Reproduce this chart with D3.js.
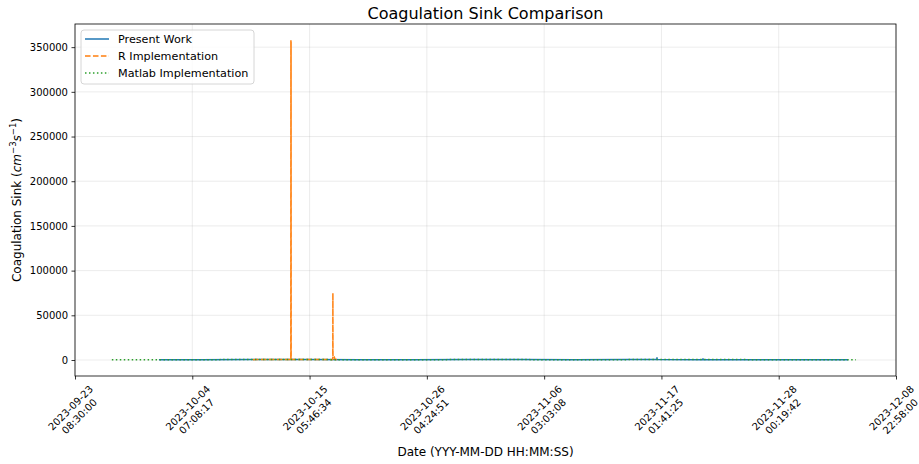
<!DOCTYPE html>
<html>
<head>
<meta charset="utf-8">
<script src="https://cdn.jsdelivr.net/npm/d3@7"></script>
<style>
  html, body { margin: 0; padding: 0; background: #fff; }
  svg { display: block; font-family: "DejaVu Sans", sans-serif; }
</style>
</head>
<body>
<svg id="chart" width="919" height="464"></svg>
<script>
// ---------------- DATA ----------------
const xTickLabels = [
  "2023-09-23 08:30:00", "2023-10-04 07:08:17", "2023-10-15 05:46:34", "2023-10-26 04:24:51",
  "2023-11-06 03:03:08", "2023-11-17 01:41:25", "2023-11-28 00:19:42", "2023-12-08 22:58:00"
];
const yTickValues = [0, 50000, 100000, 150000, 200000, 250000, 300000, 350000];

const seriesNames = ["Present Work", "R Implementation", "Matlab Implementation"];

const presentTimes = [
  "2023-10-01 04:30", "2023-10-05 00:00", "2023-10-10 00:00", "2023-10-15 00:00", "2023-10-20 00:00",
  "2023-10-25 00:00", "2023-10-30 00:00", "2023-11-04 00:00", "2023-11-09 00:00", "2023-11-14 00:00",
  "2023-11-16 15:30", "2023-11-16 15:45", "2023-11-16 16:00", "2023-11-20 22:30", "2023-11-20 22:45",
  "2023-11-20 23:00", "2023-11-25 00:00", "2023-11-30 00:00", "2023-12-04 11:30"
];
const presentValues = [350, 410, 480, 440, 390, 420, 460, 430, 400, 450, 480, 2600, 470, 420, 1300, 410, 380, 360, 340];

const rTimes = [
  "2023-10-09 23:00", "2023-10-11 12:00", "2023-10-13 11:50", "2023-10-13 12:00", "2023-10-13 12:10",
  "2023-10-13 12:20", "2023-10-13 12:30", "2023-10-15 12:00", "2023-10-17 09:50", "2023-10-17 10:00",
  "2023-10-17 10:10", "2023-10-17 13:00", "2023-10-17 15:00", "2023-10-17 19:00"
];
const rValues = [420, 510, 480, 358000, 500, 356000, 470, 530, 490, 75000, 2800, 3500, 600, 450];

const matlabTimes = [
  "2023-09-26 19:00", "2023-10-01 00:00", "2023-10-05 12:00", "2023-10-10 00:00", "2023-10-14 12:00",
  "2023-10-19 00:00", "2023-10-23 12:00", "2023-10-28 00:00", "2023-11-01 12:00", "2023-11-06 00:00",
  "2023-11-10 12:00", "2023-11-15 00:00", "2023-11-19 12:00", "2023-11-24 00:00", "2023-11-28 12:00",
  "2023-12-03 00:00", "2023-12-05 05:00"
];
const matlabValues = [310, 420, 380, 510, 460, 390, 350, 420, 470, 400, 360, 440, 500, 430, 380, 350, 320];

// ---------------- CHART ----------------
const W = 919, H = 464;
const margin = { left: 75, right: 23, top: 24, bottom: 88 };
const pw = W - margin.left - margin.right;
const ph = H - margin.top - margin.bottom;

const parseData = d3.utcParse("%Y-%m-%d %H:%M");
const parseTick = d3.utcParse("%Y-%m-%d %H:%M:%S");

const colors = ["#1f77b4", "#ff7f0e", "#2ca02c"];
const dashes = [null, "5.55,2.4", "1.5,2.475"];

const series = [
  { name: seriesNames[0], pts: presentTimes.map((t, i) => ({ t: parseData(t), v: presentValues[i] })) },
  { name: seriesNames[1], pts: rTimes.map((t, i) => ({ t: parseData(t), v: rValues[i] })) },
  { name: seriesNames[2], pts: matlabTimes.map((t, i) => ({ t: parseData(t), v: matlabValues[i] })) }
];

const tickDates = xTickLabels.map(parseTick);

const allV = series.flatMap(s => s.pts.map(p => p.v));
const vMin = Math.min(0, d3.min(allV)), vMax = d3.max(allV);
const padY = (vMax - vMin) * 0.05;

const x = d3.scaleUtc().domain([tickDates[0], tickDates[tickDates.length - 1]]).range([0, pw]);
const y = d3.scaleLinear().domain([vMin - padY, vMax + padY]).range([ph, 0]);

const svg = d3.select("#chart");
svg.append("rect").attr("width", W).attr("height", H).attr("fill", "#fff");

const g = svg.append("g").attr("transform", `translate(${margin.left},${margin.top})`);

// grid
g.append("g").selectAll("line").data(tickDates).join("line")
  .attr("x1", d => x(d)).attr("x2", d => x(d)).attr("y1", 0).attr("y2", ph)
  .attr("stroke", "#b0b0b0").attr("stroke-opacity", 0.3).attr("stroke-width", 0.8);
g.append("g").selectAll("line").data(yTickValues).join("line")
  .attr("x1", 0).attr("x2", pw).attr("y1", d => y(d)).attr("y2", d => y(d))
  .attr("stroke", "#b0b0b0").attr("stroke-opacity", 0.3).attr("stroke-width", 0.8);

// lines
const line = d3.line().x(d => x(d.t)).y(d => y(d.v));
svg.append("clipPath").attr("id", "clip").append("rect").attr("width", pw).attr("height", ph);
const lg = g.append("g").attr("clip-path", "url(#clip)");
series.forEach((s, i) => {
  lg.append("path").datum(s.pts).attr("d", line)
    .attr("fill", "none").attr("stroke", colors[i]).attr("stroke-width", 1.5)
    .attr("stroke-dasharray", dashes[i]).attr("stroke-linejoin", "round");
});

// axes
const yAxis = d3.axisLeft(y).tickValues(yTickValues).tickSize(3.5).tickPadding(3.5).tickFormat(d3.format("d"));
const ya = g.append("g").call(yAxis);
ya.select(".domain").remove();
ya.selectAll(".tick line").attr("stroke", "#000").attr("stroke-width", 0.8);
ya.selectAll(".tick text").attr("font-size", 10).attr("fill", "#000").attr("font-family", "DejaVu Sans");

const xAxis = d3.axisBottom(x).tickValues(tickDates).tickSize(3.5).tickFormat(() => "");
const xa = g.append("g").attr("transform", `translate(0,${ph})`).call(xAxis);
xa.select(".domain").remove();
xa.selectAll(".tick line").attr("stroke", "#000").attr("stroke-width", 0.8);

// rotated tick labels
const lh = 12.2;
tickDates.forEach((d, i) => {
  const parts = xTickLabels[i].split(" ");
  const tg = g.append("g");
  const t = tg.append("text").attr("font-size", 10).attr("text-anchor", "middle").attr("fill", "#000");
  t.append("tspan").attr("x", 0).attr("y", -lh / 2 + 3.5).text(parts[0]);
  t.append("tspan").attr("x", 0).attr("y", lh / 2 + 3.5).text(parts[1]);
  const w = t.node().getBBox().width;
  const h = lh * 2;
  const half = (w + h) / (2 * Math.SQRT2);
  tg.attr("transform", `translate(${x(d)},${ph + 3.5 + 3.5 + half}) rotate(-45)`);
});

// frame
g.append("rect").attr("width", pw).attr("height", ph).attr("fill", "none")
  .attr("stroke", "#000").attr("stroke-width", 0.8);

// title
svg.append("text").attr("x", margin.left + pw / 2).attr("y", 19).attr("text-anchor", "middle")
  .attr("font-size", 16).attr("fill", "#000").text("Coagulation Sink Comparison");

// x label
svg.append("text").attr("x", margin.left + pw / 2).attr("y", 456).attr("text-anchor", "middle")
  .attr("font-size", 12).attr("fill", "#000").text("Date (YYY-MM-DD HH:MM:SS)");

// y label
const yl = svg.append("text").attr("transform", `translate(21,${margin.top + ph / 2}) rotate(-90)`)
  .attr("text-anchor", "middle").attr("font-size", 12).attr("fill", "#000");
yl.append("tspan").text("Coagulation Sink (");
yl.append("tspan").attr("font-style", "italic").text("cm");
yl.append("tspan").attr("font-size", 8.5).attr("dy", -5).text("−3");
yl.append("tspan").attr("font-style", "italic").attr("dy", 5).text("s");
yl.append("tspan").attr("font-size", 8.5).attr("dy", -5).text("−1");
yl.append("tspan").attr("dy", 5).text(")");

// legend
const leg = svg.append("g").attr("transform", "translate(81,30)");
leg.append("rect").attr("width", 173).attr("height", 54).attr("rx", 3)
  .attr("fill", "#fff").attr("fill-opacity", 0.8).attr("stroke", "#cccccc").attr("stroke-width", 0.8);
seriesNames.forEach((n, i) => {
  const yy = 9 + i * 17;
  leg.append("line").attr("x1", 4).attr("x2", 28).attr("y1", yy).attr("y2", yy)
    .attr("stroke", colors[i]).attr("stroke-width", 1.5).attr("stroke-dasharray", dashes[i]);
  leg.append("text").attr("x", 37).attr("y", yy + 4).attr("font-size", 11.2).attr("fill", "#000").text(n);
});
</script>
</body>
</html>
